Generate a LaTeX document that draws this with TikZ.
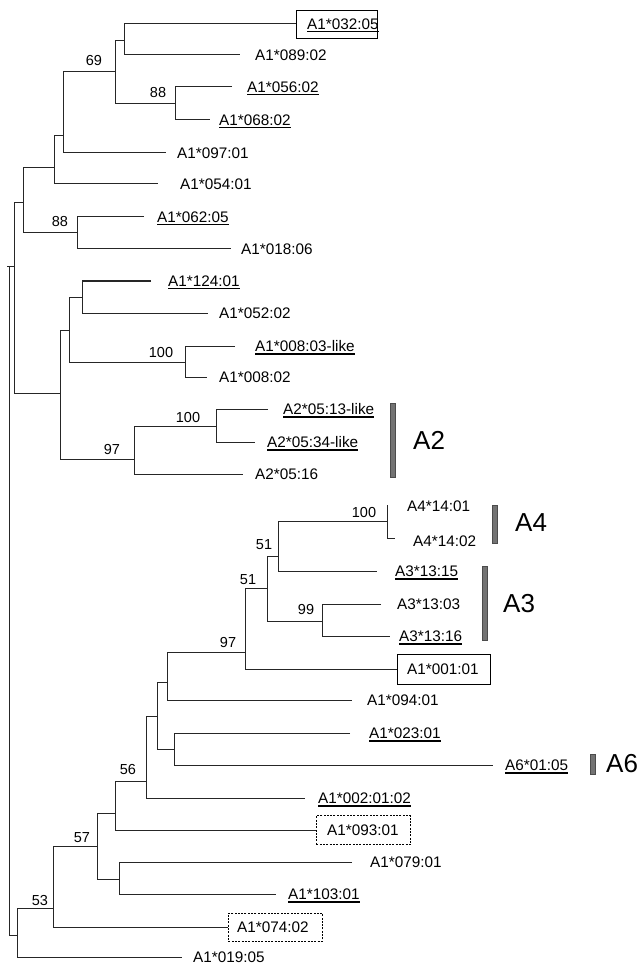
\documentclass[tikz,border=0pt]{standalone}
\usepackage{fontspec}
\setmainfont{Liberation Sans}
\newsavebox\ulbox
\newcommand{\myul}[1]{\sbox\ulbox{#1}\rlap{\rule[-3pt]{\wd\ulbox}{1.1pt}}\usebox\ulbox}
\newcommand{\elbow}[3]{\draw[branch] (#2) -- (#1 |- #2) -- (#1 |- #3) -- (#3);}
\tikzset{
  branch/.style={line width=1pt, draw=black!85},
  leaf/.style={anchor=base west, inner sep=0pt, font=\fontsize{15.3}{18}\selectfont},
  boot/.style={anchor=base, inner sep=0pt, font=\fontsize{14.5}{17}\selectfont},
  clade/.style={anchor=base west, inner sep=0pt, font=\fontsize{26}{30}\selectfont},
  cladebar/.style={draw=black!70, fill=black!55, line width=0.6pt, inner sep=0pt, minimum width=5, anchor=north},
  solidbox/.style={draw, line width=0.9pt, inner sep=0pt, anchor=west},
  dashbox/.style={draw, line width=0.9pt, inner sep=0pt, anchor=west, dash pattern=on 2pt off 1.3pt},
}
\begin{document}
\begin{tikzpicture}[x=1pt,y=-1pt]
\useasboundingbox (0,0) rectangle (640,965);
% boxes
\node[solidbox, minimum width=81, minimum height=28] (b1) at (296,24) {};
\node[solidbox, minimum width=93, minimum height=30] (b21) at (397,669) {};
\node[dashbox, minimum width=94, minimum height=29] (b26) at (316,830) {};
\node[dashbox, minimum width=94, minimum height=28] (b29) at (228,927) {};
% leaf branch ends
\coordinate (l2) at (240,55);
\coordinate (l3) at (232,87);
\coordinate (l4) at (210,120);
\coordinate (l5) at (166,153);
\coordinate (l6) at (158,184);
\coordinate (l7) at (144,217);
\coordinate (l8) at (231,249);
\coordinate (l9) at (151,281);
\coordinate (l10) at (208,313);
\coordinate (l11) at (235,346);
\coordinate (l12) at (207,377);
\coordinate (l13) at (268,409);
\coordinate (l14) at (255,442);
\coordinate (l15) at (243,474);
\coordinate (l16) at (387,505);
\coordinate (l17) at (395,538);
\coordinate (l18) at (377,571);
\coordinate (l19) at (381,604);
\coordinate (l20) at (390,636);
\coordinate (l22) at (352,700);
\coordinate (l23) at (350,733);
\coordinate (l24) at (493,765);
\coordinate (l25) at (305,798);
\coordinate (l27) at (352,862);
\coordinate (l28) at (276,894);
\coordinate (l30) at (182,957);
% internal nodes
\coordinate (na) at (124,41);
\coordinate (nb) at (175,104);
\coordinate (nc) at (115,72);
\coordinate (nd) at (63,136);
\coordinate (ne) at (54,168);
\coordinate (nf) at (77,233);
\coordinate (ng) at (23,203);
\coordinate (nh) at (82,297);
\coordinate (ni) at (185,362);
\coordinate (nj) at (69,330);
\coordinate (nk) at (216,426);
\coordinate (nl) at (134,459);
\coordinate (nm) at (60,393);
\coordinate (nn) at (14,267);
\coordinate (no) at (387,521);
\coordinate (np) at (278,556);
\coordinate (nq) at (322,621);
\coordinate (ns) at (267,588);
\coordinate (nt) at (245,652);
\coordinate (nu) at (167,682);
\coordinate (nv) at (174,749);
\coordinate (nw) at (157,716);
\coordinate (nx) at (146,781);
\coordinate (ny) at (115,813);
\coordinate (nz) at (119,879);
\coordinate (naa) at (97,846);
\coordinate (nbb) at (53,908);
\coordinate (ncc) at (17,935);
\coordinate (nroot) at (9,600);
% branches
\elbow{na}{b1.west}{l2}
\elbow{nb}{l3}{l4}
\elbow{nc}{na}{nb}
\elbow{nd}{nc}{l5}
\elbow{ne}{nd}{l6}
\elbow{nf}{l7}{l8}
\elbow{ng}{ne}{nf}
\elbow{nh}{l9}{l10}
\elbow{ni}{l11}{l12}
\elbow{nj}{nh}{ni}
\elbow{nk}{l13}{l14}
\elbow{nl}{nk}{l15}
\elbow{nm}{nj}{nl}
\elbow{nn}{ng}{nm}
\elbow{no}{l16}{l17}
\elbow{np}{no}{l18}
\elbow{nq}{l19}{l20}
\elbow{ns}{np}{nq}
\elbow{nt}{ns}{b21.west}
\elbow{nu}{nt}{l22}
\elbow{nv}{l23}{l24}
\elbow{nw}{nu}{nv}
\elbow{nx}{nw}{l25}
\elbow{ny}{nx}{b26.west}
\elbow{nz}{l27}{l28}
\elbow{naa}{ny}{nz}
\elbow{nbb}{naa}{b29.west}
\elbow{ncc}{nbb}{l30}
\elbow{nroot}{nn}{ncc}
\draw[branch] (nroot |- nn) -- ++(-2.5,0);
% leaf labels
\node[leaf] (t1) at (307,29.5) {\myul{A1*032:05}};
\node[leaf] (t2) at (255,60.5) {A1*089:02};
\node[leaf] (t3) at (247,92.5) {\myul{A1*056:02}};
\node[leaf] (t4) at (219,125.5) {\myul{A1*068:02}};
\node[leaf] (t5) at (177,158.5) {A1*097:01};
\node[leaf] (t6) at (180,189.5) {A1*054:01};
\node[leaf] (t7) at (157,222.5) {\myul{A1*062:05}};
\node[leaf] (t8) at (241,254.5) {A1*018:06};
\node[leaf] (t9) at (168,286.5) {\myul{A1*124:01}};
\node[leaf] (t10) at (219,318.5) {A1*052:02};
\node[leaf] (t11) at (255,351.5) {\myul{A1*008:03-like}};
\node[leaf] (t12) at (219,382.5) {A1*008:02};
\node[leaf] (t13) at (283,414.5) {\myul{A2*05:13-like}};
\node[leaf] (t14) at (267,447.5) {\myul{A2*05:34-like}};
\node[leaf] (t15) at (255,479.5) {A2*05:16};
\node[leaf] (t16) at (407,511.5) {A4*14:01};
\node[leaf] (t17) at (413,546) {A4*14:02};
\node[leaf] (t18) at (395,576.5) {\myul{A3*13:15}};
\node[leaf] (t19) at (397,609.5) {A3*13:03};
\node[leaf] (t20) at (399,641.5) {\myul{A3*13:16}};
\node[leaf] (t21) at (407,674.5) {A1*001:01};
\node[leaf] (t22) at (367,705.5) {A1*094:01};
\node[leaf] (t23) at (369,738.5) {\myul{A1*023:01}};
\node[leaf] (t24) at (505,770.5) {\myul{A6*01:05}};
\node[leaf] (t25) at (318,803.5) {\myul{A1*002:01:02}};
\node[leaf] (t26) at (327,835.5) {A1*093:01};
\node[leaf] (t27) at (370,867.5) {A1*079:01};
\node[leaf] (t28) at (288,899.5) {\myul{A1*103:01}};
\node[leaf] (t29) at (237,932.5) {A1*074:02};
\node[leaf] (t30) at (193,962.5) {A1*019:05};
% bootstrap values
\node[boot] (s1) at (94,66) {69};
\node[boot] (s2) at (158,98) {88};
\node[boot] (s3) at (60,227) {88};
\node[boot] (s4) at (161,357) {100};
\node[boot] (s5) at (188,422) {100};
\node[boot] (s6) at (112,454) {97};
\node[boot] (s7) at (364,517) {100};
\node[boot] (s8) at (264,549) {51};
\node[boot] (s9) at (248,584) {51};
\node[boot] (s10) at (306,614) {99};
\node[boot] (s11) at (228,647) {97};
\node[boot] (s12) at (128,774) {56};
\node[boot] (s13) at (82,842) {57};
\node[boot] (s14) at (40,905) {53};
% clade bars and names
\node[cladebar, minimum height=74] (barA2) at (393,403) {};
\node[cladebar, minimum height=38] (barA4) at (495,505) {};
\node[cladebar, minimum height=74] (barA3) at (485,566) {};
\node[cladebar, minimum height=20] (barA6) at (593,754) {};
\node[clade] (cA2) at (413,449.3) {A2};
\node[clade] (cA4) at (515,531.3) {A4};
\node[clade] (cA3) at (503,612.3) {A3};
\node[clade] (cA6) at (606,772.3) {A6};
\end{tikzpicture}
\end{document}
